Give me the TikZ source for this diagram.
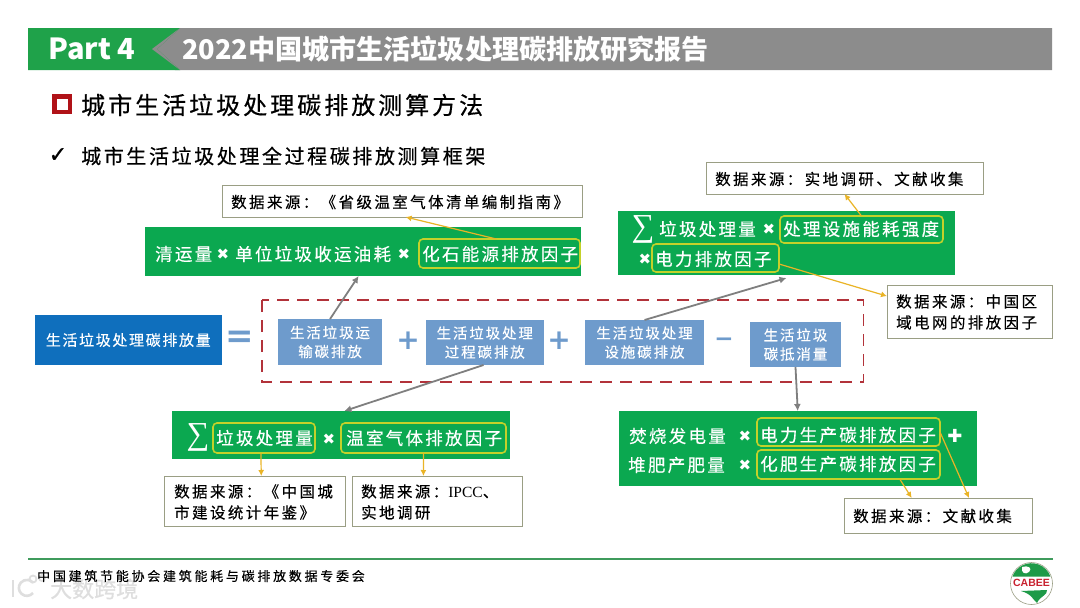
\documentclass[tikz,border=0pt]{standalone}
\usepackage{fontspec}
\usetikzlibrary{calc,arrows.meta}
\setmainfont{Noto Sans CJK SC}
\newfontfamily\symf{DejaVu Sans}
\newfontfamily\serf{Liberation Serif}
\newfontfamily\sanf{Liberation Sans}
\definecolor{barG}{HTML}{1FA24A}
\definecolor{barY}{HTML}{8C8C8C}
\definecolor{boxG}{HTML}{0BA850}
\definecolor{blueM}{HTML}{0F6FBD}
\definecolor{blueL}{HTML}{6E9BCC}
\definecolor{redD}{HTML}{B2323A}
\definecolor{redS}{HTML}{B01218}
\definecolor{hiY}{HTML}{C4D12A}
\definecolor{arY}{HTML}{EAB426}
\definecolor{arG}{HTML}{7F7F7F}
\definecolor{srcB}{HTML}{9A9E84}
\definecolor{lineG}{HTML}{3F9B5C}
\definecolor{wmark}{HTML}{DEDEDE}
\definecolor{logoG}{HTML}{1E9A48}
\definecolor{logoR}{HTML}{C8202E}
\newcommand{\fs}[2]{\fontsize{#1}{#2}\selectfont}
\newcommand{\ls}[2]{\addfontfeature{LetterSpace=#1,FakeBold=#2}}
% \Bx{name}{style}{x1}{y1}{x2}{y2}{text}
\newcommand{\Bx}[7]{%
  \pgfmathsetmacro{\cxx}{(#3+#5)/2}\pgfmathsetmacro{\cyy}{(#4+#6)/2}%
  \pgfmathsetmacro{\www}{#5-#3}\pgfmathsetmacro{\hhh}{#6-#4}%
  \node[#2,minimum width=\www pt,minimum height=\hhh pt] (#1) at (\cxx,\cyy) {#7};}
\tikzset{
  x=1pt,y=-1pt,
  base/.style={inner sep=0pt,outer sep=0pt,text centered},
  greenbox/.style={base,fill=boxG},
  hi/.style={base,draw=hiY,line width=1.6pt,rounded corners=4pt},
  srcbox/.style={base,draw=srcB,line width=1pt,fill=white,text=black},
  bluebox/.style={base,fill=blueL,text=white,align=center,font=\fs{14.5}{19}\ls{13}{0.2}},
  white text/.style={text=white,inner sep=0pt,anchor=west},
  gtxt/.style={white text,font=\fs{17.5}{20}\ls{13}{0.3}},
  srctxt/.style={inner sep=0pt,anchor=west,text=black,align=left,font=\fs{15.5}{21}\ls{15.5}{0.25}},
  timesmark/.style={text=white,inner sep=0pt,font=\symf\fs{15}{15}},
  sigmamark/.style={text=white,inner sep=0pt,font=\serf\fs{32}{32}},
  opmark/.style={text=blueL,inner sep=0pt,font=\symf\bfseries\fs{28}{28}},
  yarrow/.style={draw=arY,line width=1.2pt,-{Latex[length=6pt,width=6pt]}},
  garrow/.style={draw=arG,line width=1.8pt,-{Latex[length=7pt,width=7pt]}},
}
\begin{document}
\begin{tikzpicture}
\useasboundingbox (0,0) rectangle (1080,608);
\fill[white] (0,0) rectangle (1080,608);
% header bar
\fill[barY] (175,28) -- (1052,28) -- (1052,70) -- (175,70) -- (152,49) -- cycle;
\fill[barG] (28,28) -- (180,28) -- (157,49) -- (180,70) -- (28,70) -- cycle;
\fill[barY] (180,28) -- (157,49) -- (180,70) -- (152,49) -- cycle;
\node[text=white,inner sep=0pt,anchor=west,font=\bfseries\fs{29}{30}] (part) at (48,49) {Part 4};
\node[text=white,inner sep=0pt,anchor=west,font=\bfseries\fs{27.1}{30}] (title) at (182,49) {2022中国城市生活垃圾处理碳排放研究报告};
% headings
\Bx{sq}{base,draw=redS,line width=4.5pt}{54.25}{96.25}{69.75}{111.75}{}
\node[inner sep=0pt,anchor=west,font=\fs{24}{26}\ls{12.5}{0.5}] (h1) at (81,105) {城市生活垃圾处理碳排放测算方法};
\node[inner sep=0pt,font=\symf\fs{22}{22}\addfontfeature{FakeBold=1}] (chk) at (58,155) {✓};
\node[inner sep=0pt,anchor=west,font=\fs{20}{24}\ls{13}{0.4}] (h2) at (81,156) {城市生活垃圾处理全过程碳排放测算框架};
% source boxes
\Bx{s1}{srcbox}{222}{185}{582}{217}{}
\node[srctxt] at (231,202) {数据来源：《省级温室气体清单编制指南》};
\Bx{s2}{srcbox}{706}{162}{983}{194}{}
\node[srctxt] at (715,179) {数据来源：实地调研、文献收集};
\Bx{s3}{srcbox}{887}{285}{1052}{338}{}
\node[srctxt] at (896,312) {数据来源：中国区\\域电网的排放因子};
\Bx{s4}{srcbox}{164.5}{476}{345}{526}{}
\node[srctxt] at (174,502) {数据来源：《中国城\\市建设统计年鉴》};
\Bx{s5}{srcbox}{352}{476}{522}{526}{}
\node[srctxt] at (361,502) {数据来源：{\serf IPCC}、\\实地调研};
\Bx{s6}{srcbox}{844}{498}{1032}{533}{}
\node[srctxt] at (853,516) {数据来源：文献收集};
% green box 1
\Bx{g1}{greenbox}{145}{227}{581}{276}{}
\Bx{y1}{hi}{419}{239}{580}{268}{}
\node[gtxt] at (155,254) {清运量};
\node[timesmark] at (223,254) {✖};
\node[gtxt] at (235,254) {单位垃圾收运油耗};
\node[timesmark] at (404,254) {✖};
\node[gtxt] at (422,254) {化石能源排放因子};
% green box 2
\Bx{g2}{greenbox}{618}{211}{955}{275}{}
\Bx{y2}{hi}{780}{216}{943}{243}{}
\Bx{y3}{hi}{652}{244}{779}{272}{}
\node[sigmamark] at (643,229) {∑};
\node[gtxt] at (659,229) {垃圾处理量};
\node[timesmark] at (769,229) {✖};
\node[gtxt] at (783,229) {处理设施能耗强度};
\node[timesmark] at (645,259) {✖};
\node[gtxt] at (655,259) {电力排放因子};
% main row
\Bx{m}{base,fill=blueM,text=white,font=\fs{15}{19}\ls{11}{0.25}}{34.5}{315}{222}{365}{生活垃圾处理碳排放量}
\node[opmark,font=\symf\bfseries\fs{34}{34}] at (240,339) {=};
\draw[redD,line width=1.8pt,dash pattern=on 12pt off 8pt] (262,300) rectangle (863.5,382);
\Bx{a}{bluebox}{278}{319}{382}{365}{生活垃圾运\\输碳排放}
\node[opmark] at (408,341) {+};
\Bx{b}{bluebox}{425.5}{320}{544}{365}{生活垃圾处理\\过程碳排放}
\node[opmark] at (559,341) {+};
\Bx{c}{bluebox}{585}{320}{704}{365}{生活垃圾处理\\设施碳排放}
\node[opmark,font=\symf\bfseries\fs{23}{23}] at (724,342) {−};
\Bx{d}{bluebox}{750}{322}{841}{367}{生活垃圾\\碳抵消量}
% green box 3
\Bx{g3}{greenbox}{172}{411}{510}{459}{}
\Bx{y4}{hi}{213}{423}{315}{453}{}
\Bx{y5}{hi}{341}{423}{506}{453}{}
\node[sigmamark] at (198,437) {∑};
\node[gtxt] at (216,438) {垃圾处理量};
\node[timesmark] at (329,439) {✖};
\node[gtxt] at (346,438) {温室气体排放因子};
% green box 4
\Bx{g4}{greenbox}{618.5}{411}{977}{486}{}
\Bx{y6}{hi}{757}{418}{940}{446}{}
\Bx{y7}{hi}{757}{450}{940}{479}{}
\node[gtxt] at (629,436) {焚烧发电量};
\node[timesmark] at (745,436) {✖};
\node[gtxt] at (760,435) {电力生产碳排放因子};
\node[text=white,inner sep=0pt,font=\symf\fs{18}{18}] at (955,436) {✚};
\node[gtxt] at (628,465) {堆肥产肥量};
\node[timesmark] at (745,465) {✖};
\node[gtxt] at (760,464) {化肥生产碳排放因子};
% grey connectors
\draw[garrow] ($(a.north west)!0.5!(a.north east)$) -- ($(g1.south west)!0.49!(g1.south east)$);
\draw[garrow] ($(b.south west)!0.49!(b.south east)$) -- ($(g3.north west)!0.51!(g3.north east)$);
\draw[garrow] ($(c.north west)!0.5!(c.north east)$) -- ($(g2.south west)!0.5!(g2.south east)+(0,3)$);
\draw[garrow] (d.south) -- ($(g4.north west)!0.5!(g4.north east)$);
% yellow connectors
\draw[yarrow] ($(y1.north west)!0.48!(y1.north east)$) -- ($(s1.south west)!0.51!(s1.south east)$);
\draw[yarrow] ($(y2.north west)!0.5!(y2.north east)$) -- ($(s2.south west)!0.5!(s2.south east)$);
\draw[yarrow] ($(y3.east)+(0,6)$) -- ($(s3.north west)!0.21!(s3.south west)$);
\draw[yarrow] ($(y4.south west)!0.47!(y4.south east)$) -- ($(s4.north west)!0.536!(s4.north east)$);
\draw[yarrow] ($(y5.south west)!0.5!(y5.south east)$) -- ($(s5.north west)!0.42!(s5.north east)$);
\draw[yarrow] (y6.east) -- ($(s6.north west)!0.665!(s6.north east)$);
\draw[yarrow] ($(y7.south west)!0.78!(y7.south east)$) -- ($(s6.north west)!0.36!(s6.north east)$);
% watermark (behind the footer text)
\draw[wmark,line width=2.6pt] (13,580) -- (13,597);
\draw[wmark,line width=2.6pt] (33,593) arc[start angle=40,end angle=320,radius=8];
\draw[wmark,line width=1.8pt] (33,579) circle[radius=3.5];
\draw[wmark,line width=1.8pt] (42,578) circle[radius=3];
\node[inner sep=0pt,anchor=west,text=wmark,font=\fs{22}{24}\addfontfeature{FakeBold=0.6}] (wm) at (50,589) {大数跨境};
% footer
\draw[lineG,line width=2.4pt] (28,559) -- (1053,559);
\node[inner sep=0pt,anchor=west,font=\fs{13}{15}\ls{21}{0.25}] (foot) at (37,576) {中国建筑节能协会建筑能耗与碳排放数据专委会};
% CABEE logo
\draw[srcB,line width=0.6pt] (1031.5,583.5) circle[radius=21];
\fill[logoG] (1012.5,576.5) arc[start angle=200,end angle=340,radius=20.2] -- cycle;
\fill[white] (1022,567) .. controls (1028,565) and (1033,568) .. (1029,572) .. controls (1025,575) and (1021,573) .. (1022,567) -- cycle;
\fill[logoG] (1021,591) -- (1047,590) .. controls (1048,595) and (1040,596) .. (1037,603) .. controls (1033,600) and (1032,594) .. (1021,591) -- cycle;
\node[inner sep=0pt,text=logoR,font=\sanf\bfseries\fs{10.5}{11}] (logo) at (1031.5,583) {CABEE};
\end{tikzpicture}
\end{document}
